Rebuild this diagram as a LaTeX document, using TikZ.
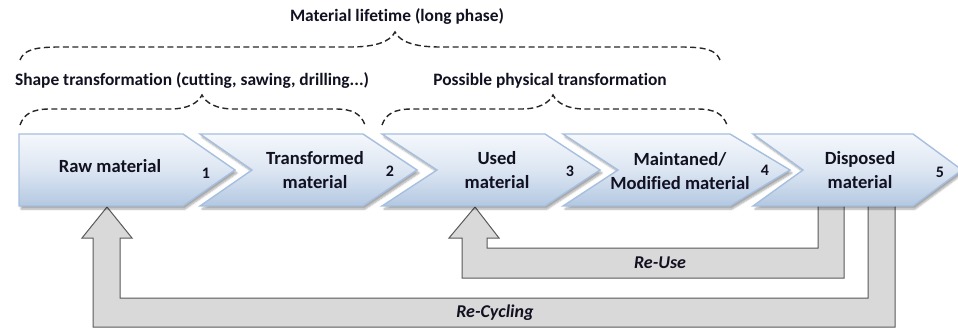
\documentclass[tikz,border=0pt]{standalone}
\usepackage{fontspec}
\setmainfont{Carlito}[Ligatures={NoCommon}]
\usetikzlibrary{shadows.blur}
\definecolor{chevtop}{HTML}{F5F8FC}
\definecolor{chevmid}{HTML}{DCE6F2}
\definecolor{chevbot}{HTML}{B3C8E2}
\definecolor{chevline}{HTML}{A7BFDE}
\definecolor{arrfill}{HTML}{D9D9D9}
\definecolor{arrline}{HTML}{595959}
\definecolor{txt}{HTML}{111122}
\tikzset{
  chevbox/.style={draw=chevline, line width=1.4pt, line join=miter,
    top color=chevtop, bottom color=chevbot, middle color=chevmid,
    blur shadow={shadow xshift=2pt, shadow yshift=-3pt, shadow blur steps=6, shadow opacity=35}},
  boxtext/.style={font=\fontsize{18.6}{24}\selectfont\bfseries, text=txt, align=center, inner sep=0pt},
  numtext/.style={font=\fontsize{16}{18}\selectfont\bfseries, text=txt, inner sep=0pt},
  headtext/.style={font=\fontsize{17.4}{19}\selectfont\bfseries, text=txt, inner sep=0pt},
  looptext/.style={font=\fontsize{18}{20}\selectfont\bfseries\itshape, text=txt, inner sep=0pt},
  brace/.style={draw=black!85, line width=1.4pt, dash pattern=on 6pt off 3.5pt},
  grayarrow/.style={fill=arrfill, draw=arrline, line width=1pt, line join=miter}
}
\begin{document}
\begin{tikzpicture}[x=1pt,y=-1pt]
\useasboundingbox (0,0) rectangle (958,331);

% loop arrows (behind the boxes)
\draw[grayarrow] (868,205) -- (868,298) -- (120,298) -- (120,238) -- (132,238) -- (107,207)
  -- (82,238) -- (93,238) -- (93,327) -- (895,327) -- (895,205) -- cycle;
\draw[grayarrow] (818,205) -- (818,248) -- (487,248) -- (487,238) -- (499,238) -- (475,207)
  -- (449,238) -- (462,238) -- (462,278) -- (844,278) -- (844,205) -- cycle;

% chevrons
\path[chevbox] (19,134) -- (183,134) -- (235,170) -- (183,206) -- (19,206) -- cycle;
\path[chevbox] (200,134) -- (363,134) -- (417,170) -- (363,206) -- (200,206) -- (252,170) -- cycle;
\path[chevbox] (382,134) -- (545,134) -- (600,170) -- (545,206) -- (382,206) -- (437,170) -- cycle;
\path[chevbox] (563,134) -- (730,134) -- (790,170) -- (730,206) -- (563,206) -- (618,170) -- cycle;
\path[chevbox] (753,134) -- (913,134) -- (962,170) -- (913,206) -- (753,206) -- (803,170) -- cycle;

% box texts
\node[boxtext] (raw) at (110,166) {Raw material};
\node[boxtext] (trans) at (315,170) {Transformed\\material};
\node[boxtext] (used) at (497,170) {Used\\material};
\node[boxtext] (maint) at (680,171) {Maintaned/\\Modified material};
\node[boxtext] (disp) at (860,170) {Disposed\\material};

\node[numtext] (n1) at (206,173) {1};
\node[numtext] (n2) at (390,171) {2};
\node[numtext] (n3) at (570,171) {3};
\node[numtext] (n4) at (765,170) {4};
\node[numtext] (n5) at (940,172) {5};

% braces
\draw[brace] (20,60) .. controls (24,50) and (34,47) .. (60,47) -- (350,47)
  .. controls (375,47) and (390,42) .. (395,32)
  .. controls (400,42) and (415,47) .. (440,47) -- (680,47)
  .. controls (706,47) and (716,50) .. (720,60);
\draw[brace] (20,125) .. controls (24,114) and (32,109) .. (50,109) -- (170,109)
  .. controls (188,109) and (198,103) .. (202,95)
  .. controls (206,103) and (216,109) .. (234,109) -- (335,109)
  .. controls (353,109) and (361,114) .. (365,125);
\draw[brace] (382,125) .. controls (386,114) and (394,109) .. (412,109) -- (521,109)
  .. controls (539,109) and (549,103) .. (553,95)
  .. controls (557,103) and (567,109) .. (585,109) -- (697,109)
  .. controls (715,109) and (723,114) .. (727,125);

% headings
\node[headtext] (life) at (397,17) {Material lifetime (long phase)};
\node[headtext] (shape) at (192,81) {Shape transformation (cutting, sawing, drilling...)};
\node[headtext] (phys) at (550,81) {Possible physical transformation};

% loop labels
\node[looptext] (reuse) at (660,263) {Re-Use};
\node[looptext] (recyc) at (495,313) {Re-Cycling};
\end{tikzpicture}
\end{document}
